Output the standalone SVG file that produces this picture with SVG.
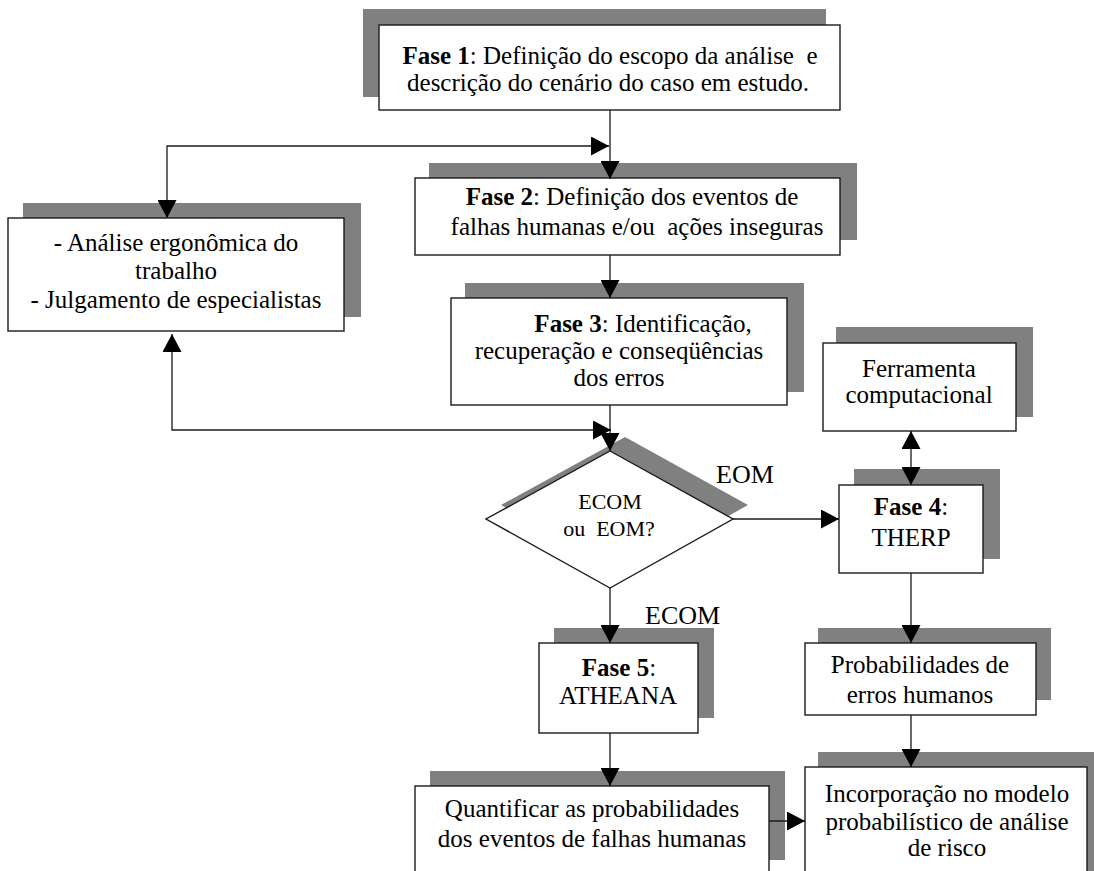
<svg xmlns="http://www.w3.org/2000/svg" width="1094" height="871" viewBox="0 0 1094 871">
  <defs>
    <marker id="arrow" viewBox="0 0 18 19" refX="18" refY="9.5" markerWidth="18" markerHeight="19" markerUnits="userSpaceOnUse" orient="auto-start-reverse">
      <path d="M0,0 L18,9.5 L0,19 z" fill="#000"/>
    </marker>
    <style>
      .shadow { fill: #808080; }
      .box { fill: #fff; stroke: #1a1a1a; stroke-width: 1.4; }
      .txt { font-family: "Liberation Serif", "Times New Roman", serif; font-size: 25px; fill: #000; text-anchor: middle; }
      .dtxt { font-size: 22px; }
      .lbl { font-family: "Liberation Serif", "Times New Roman", serif; font-size: 26px; fill: #000; }
      .b { font-weight: bold; }
      .conn { fill: none; stroke: #1a1a1a; stroke-width: 1.3; }
    </style>
  </defs>
  <rect width="1094" height="871" fill="#fff"/>

  <!-- Fase 1 -->
  <g id="fase1">
    <rect class="shadow" x="363" y="9" width="463" height="88"/>
    <rect class="box" x="379" y="25" width="461" height="85"/>
    <text class="txt" x="610" y="64"><tspan class="b">Fase 1</tspan>: Definição do escopo da análise&#160; e</text>
    <text class="txt" x="608" y="91">descrição do cenário do caso em estudo.</text>
  </g>

  <!-- Fase 2 -->
  <g id="fase2">
    <rect class="shadow" x="429" y="163" width="428" height="77"/>
    <rect class="box" x="415" y="178" width="425" height="77"/>
    <text class="txt" x="632" y="205"><tspan class="b">Fase 2</tspan>: Definição dos eventos de</text>
    <text class="txt" x="637" y="235">falhas humanas e/ou&#160; ações inseguras</text>
  </g>

  <!-- Análise ergonômica / julgamento -->
  <g id="analise">
    <rect class="shadow" x="23" y="203" width="338" height="114"/>
    <rect class="box" x="8" y="218" width="336" height="113"/>
    <text class="txt" x="176" y="251">- Análise ergonômica do</text>
    <text class="txt" x="176" y="279">trabalho</text>
    <text class="txt" x="176" y="308">- Julgamento de especialistas</text>
  </g>

  <!-- Fase 3 -->
  <g id="fase3">
    <rect class="shadow" x="465" y="283" width="339" height="109"/>
    <rect class="box" x="451" y="298" width="336" height="107"/>
    <text class="txt" x="643" y="332"><tspan class="b">Fase 3</tspan>: Identificação,</text>
    <text class="txt" x="619" y="359">recuperação e conseqüências</text>
    <text class="txt" x="619" y="386">dos erros</text>
  </g>

  <!-- Decisão ECOM / EOM -->
  <g id="decisao">
    <polygon class="shadow" points="625,437 748,505 625,574 501,505"/>
    <polygon class="box" points="610,451 733,519 610,588 486,519"/>
    <text class="txt dtxt" x="610" y="509">ECOM</text>
    <text class="txt dtxt" x="609" y="536">ou&#160; EOM?</text>
  </g>

  <!-- Ferramenta computacional -->
  <g id="ferramenta">
    <rect class="shadow" x="836" y="327" width="197" height="90"/>
    <rect class="box" x="823" y="343" width="193" height="88"/>
    <text class="txt" x="919" y="377">Ferramenta</text>
    <text class="txt" x="919" y="403">computacional</text>
  </g>

  <!-- Fase 4 -->
  <g id="fase4">
    <rect class="shadow" x="854" y="469" width="146" height="90"/>
    <rect class="box" x="839" y="485" width="144" height="88"/>
    <text class="txt" x="911" y="515"><tspan class="b">Fase 4</tspan>:</text>
    <text class="txt" x="911" y="546">THERP</text>
  </g>

  <!-- Fase 5 -->
  <g id="fase5">
    <rect class="shadow" x="554" y="628" width="160" height="90"/>
    <rect class="box" x="539" y="643" width="159" height="90"/>
    <text class="txt" x="619" y="676"><tspan class="b">Fase 5</tspan>:</text>
    <text class="txt" x="618" y="704">ATHEANA</text>
  </g>

  <!-- Probabilidades de erros humanos -->
  <g id="probabilidades">
    <rect class="shadow" x="818" y="628" width="233" height="72"/>
    <rect class="box" x="805" y="643" width="231" height="72"/>
    <text class="txt" x="920" y="673">Probabilidades de</text>
    <text class="txt" x="920" y="703">erros humanos</text>
  </g>

  <!-- Quantificar -->
  <g id="quantificar">
    <rect class="shadow" x="430" y="771" width="355" height="89"/>
    <rect class="box" x="415" y="786" width="354" height="100"/>
    <text class="txt" x="592" y="817">Quantificar as probabilidades</text>
    <text class="txt" x="592" y="847">dos eventos de falhas humanas</text>
  </g>

  <!-- Incorporação no modelo -->
  <g id="incorporacao">
    <rect class="shadow" x="818" y="752" width="292" height="130"/>
    <rect class="box" x="805" y="767" width="282" height="120"/>
    <text class="txt" x="947" y="802">Incorporação no modelo</text>
    <text class="txt" x="947" y="830">probabilístico de análise</text>
    <text class="txt" x="947" y="856">de risco</text>
  </g>

  <!-- Conectores -->
  <g id="connectors">
    <path class="conn" d="M610,110 L610,179" marker-end="url(#arrow)"/>
    <path class="conn" d="M167,218 L167,146 L609,146" marker-start="url(#arrow)" marker-end="url(#arrow)"/>
    <path class="conn" d="M610,255 L610,298" marker-end="url(#arrow)"/>
    <path class="conn" d="M610,405 L610,451" marker-end="url(#arrow)"/>
    <path class="conn" d="M172,334 L172,430 L611,430" marker-start="url(#arrow)" marker-end="url(#arrow)"/>
    <path class="conn" d="M733,519 L839,519" marker-end="url(#arrow)"/>
    <path class="conn" d="M911,431 L911,485" marker-start="url(#arrow)" marker-end="url(#arrow)"/>
    <path class="conn" d="M610,588 L610,643" marker-end="url(#arrow)"/>
    <path class="conn" d="M610,733 L610,786" marker-end="url(#arrow)"/>
    <path class="conn" d="M911,573 L911,643" marker-end="url(#arrow)"/>
    <path class="conn" d="M911,715 L911,767" marker-end="url(#arrow)"/>
    <path class="conn" d="M769,821 L805,821" marker-end="url(#arrow)"/>
  </g>

  <!-- Rótulos das saídas -->
  <g id="labels">
    <text class="lbl" x="716" y="483">EOM</text>
    <text class="lbl" x="645" y="624">ECOM</text>
  </g>
</svg>
